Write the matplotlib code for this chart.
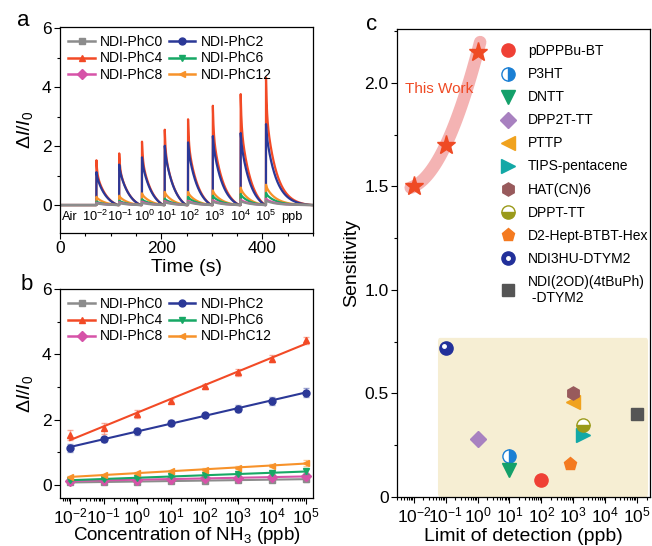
import matplotlib
matplotlib.use("Agg")
import matplotlib.pyplot as plt
import numpy as np
from matplotlib.lines import Line2D
from matplotlib.patches import FancyBboxPatch
from matplotlib.ticker import MultipleLocator, LogLocator, NullFormatter
from matplotlib.transforms import offset_copy

plt.rcParams["font.family"] = ["Liberation Sans", "DejaVu Sans"]
plt.rcParams["mathtext.fontset"] = "custom"
plt.rcParams["mathtext.rm"] = "Liberation Sans"
plt.rcParams["mathtext.it"] = "Liberation Sans:italic"
plt.rcParams["mathtext.bf"] = "Liberation Sans:bold"
plt.rcParams["axes.unicode_minus"] = False

series_names = ["NDI-PhC0", "NDI-PhC2", "NDI-PhC4", "NDI-PhC6", "NDI-PhC8", "NDI-PhC12"]
pulse_times = [72, 117, 162, 207, 253, 302, 357, 407]
pulse_labels = ["Air", "$10^{-2}$", "$10^{-1}$", "$10^{0}$", "$10^{1}$", "$10^{2}$",
                "$10^{3}$", "$10^{4}$", "$10^{5}$", "ppb"]
pulse_label_t = [19, 69, 118, 167, 210, 256, 305, 357, 407, 458]
peak_c0 = [0.06, 0.07, 0.08, 0.10, 0.11, 0.12, 0.14, 0.16]
peak_c2 = [1.12, 1.38, 1.63, 2.03, 2.15, 2.37, 2.48, 2.79]
peak_c4 = [1.53, 1.77, 2.18, 2.60, 2.97, 3.45, 3.87, 4.46]
peak_c6 = [0.12, 0.15, 0.20, 0.22, 0.28, 0.32, 0.38, 0.42]
peak_c8 = [0.08, 0.10, 0.12, 0.14, 0.15, 0.17, 0.19, 0.22]
peak_c12 = [0.28, 0.32, 0.40, 0.45, 0.45, 0.50, 0.60, 0.70]
recovery_s = [42, 42, 42, 42, 46, 52, 48, 90]

# ---- panel b: calibration ----
conc = [1e-2, 1e-1, 1e0, 1e1, 1e2, 1e3, 1e4, 1e5]
resp_c0 = [0.08, 0.09, 0.10, 0.12, 0.13, 0.15, 0.16, 0.18]
resp_c2 = [1.14, 1.40, 1.64, 1.91, 2.14, 2.34, 2.57, 2.83]
resp_c4 = [1.52, 1.73, 2.17, 2.58, 3.02, 3.45, 3.87, 4.43]
resp_c6 = [0.15, 0.18, 0.22, 0.26, 0.29, 0.33, 0.37, 0.42]
resp_c8 = [0.12, 0.14, 0.16, 0.18, 0.20, 0.22, 0.24, 0.26]
resp_c12 = [0.25, 0.30, 0.37, 0.42, 0.47, 0.53, 0.59, 0.67]
err_c2 = [0.12, 0.08, 0.10, 0.09, 0.07, 0.11, 0.11, 0.14]
err_c4 = [0.15, 0.17, 0.12, 0.05, 0.08, 0.10, 0.10, 0.10]
err_small = [0.03, 0.03, 0.03, 0.03, 0.04, 0.04, 0.05, 0.08]

# ---- panel c: comparison with literature ----
materials = ["pDPPBu-BT", "P3HT", "DNTT", "DPP2T-TT", "PTTP", "TIPS-pentacene",
             "HAT(CN)6", "DPPT-TT", "D2-Hept-BTBT-Hex", "NDI3HU-DTYM2",
             "NDI(2OD)(4tBuPh)\n -DTYM2"]
lod = [100, 10, 10, 1, 1000, 2000, 1000, 2000, 800, 0.1, 1e5]
sensitivity = [0.08, 0.20, 0.13, 0.28, 0.46, 0.30, 0.50, 0.35, 0.16, 0.72, 0.40]
this_work_lod = [0.01, 0.1, 1]
this_work_sens = [1.5, 1.7, 2.15]

colors = {"NDI-PhC0": "#8c8c8c", "NDI-PhC2": "#2b3897", "NDI-PhC4": "#f24a26",
          "NDI-PhC6": "#17a865", "NDI-PhC8": "#d653a8", "NDI-PhC12": "#f7922a"}
markers = {"NDI-PhC0": "s", "NDI-PhC2": "o", "NDI-PhC4": "^",
           "NDI-PhC6": "v", "NDI-PhC8": "D", "NDI-PhC12": "<"}
lit_styles = [
    dict(marker="o", color="#ef4035"),
    dict(marker="o", color="#1a7fd4", fillstyle="right", markerfacecoloralt="white"),
    dict(marker="v", color="#14a06a"),
    dict(marker="D", color="#a881c0", markersize=8),
    dict(marker="<", color="#f0a21e"),
    dict(marker=">", color="#12a8a6"),
    dict(marker="h", color="#985a5c"),
    dict(marker="o", color="#9a9a1a", fillstyle="bottom", markerfacecoloralt="white"),
    dict(marker="p", color="#f47a20"),
    dict(marker="o", color="#22309a"),
    dict(marker="s", color="#555555", markersize=8),
]


def pulse_trace(peaks, fast_frac):
    """Rebuild a trace: step up at each exposure, then decay back to baseline."""
    t = np.linspace(0, 500, 3000)
    y = np.zeros_like(t)
    for t0, peak, rec in zip(pulse_times, peaks, recovery_s):
        dt = t - t0
        m = (dt >= 0) & (dt <= rec)
        slow = (np.exp(-dt[m] / 20) - np.exp(-rec / 20)) / (1 - np.exp(-rec / 20))
        y[m] = peak * (fast_frac * np.exp(-dt[m] / 1.5) + (1 - fast_frac) * slow)
    return t, y


def style_axes(ax):
    for s in ax.spines.values():
        s.set_linewidth(0.9)
    ax.tick_params(which="both", direction="out", labelsize=12.5, width=0.8, pad=2)
    ax.tick_params(which="major", length=4)
    ax.tick_params(which="minor", length=2)


def small_legend(ax):
    order = ["NDI-PhC0", "NDI-PhC4", "NDI-PhC8", "NDI-PhC2", "NDI-PhC6", "NDI-PhC12"]
    handles = [Line2D([], [], color=colors[n], marker=markers[n], markersize=5,
                      lw=1.8, label=n) for n in order]
    ax.legend(handles=handles, ncol=2, loc="upper left", frameon=False,
              fontsize=10, handlelength=1.9, handletextpad=0.4, columnspacing=0.4,
              labelspacing=0.15, borderaxespad=0.2, bbox_to_anchor=(0.0, 1.0))


fig = plt.figure(figsize=(6.52, 5.46), dpi=100)
W, H = 652, 546


def add_ax(left, top, right, bottom):
    return fig.add_axes([left / W, 1 - bottom / H, (right - left) / W, (bottom - top) / H])


# panel a
ax_a = add_ax(60, 27, 313, 233)
trace_peaks = {"NDI-PhC0": peak_c0, "NDI-PhC2": peak_c2, "NDI-PhC4": peak_c4,
               "NDI-PhC6": peak_c6, "NDI-PhC8": peak_c8, "NDI-PhC12": peak_c12}
for name in ["NDI-PhC4", "NDI-PhC2", "NDI-PhC12", "NDI-PhC6", "NDI-PhC8", "NDI-PhC0"]:
    frac = 0.28 if name == "NDI-PhC4" else 0.1
    t, y = pulse_trace(trace_peaks[name], frac)
    ax_a.plot(t, y, color=colors[name], lw=1.6)
for tl, lab in zip(pulse_label_t, pulse_labels):
    ax_a.text(tl, -0.4, lab, ha="center", va="center", fontsize=9.2)
ax_a.set_xlim(0, 500)
ax_a.set_ylim(-0.95, 6.05)
ax_a.set_yticks([0, 2, 4, 6])
ax_a.yaxis.set_minor_locator(MultipleLocator(1))
ax_a.xaxis.set_minor_locator(MultipleLocator(50))
ax_a.set_xlabel("Time (s)", fontsize=14, labelpad=2)
ax_a.set_ylabel(r"$\Delta I/I_0$", fontsize=14, labelpad=5)
style_axes(ax_a)
small_legend(ax_a)

# panel b
ax_b = add_ax(60, 289, 313, 498)
resp = {"NDI-PhC0": resp_c0, "NDI-PhC2": resp_c2, "NDI-PhC4": resp_c4,
        "NDI-PhC6": resp_c6, "NDI-PhC8": resp_c8, "NDI-PhC12": resp_c12}
errs = {"NDI-PhC2": err_c2, "NDI-PhC4": err_c4}
logc = np.log10(conc)
for name in ["NDI-PhC0", "NDI-PhC8", "NDI-PhC6", "NDI-PhC12", "NDI-PhC2", "NDI-PhC4"]:
    vals = np.array(resp[name])
    k, b = np.polyfit(logc, vals, 1)
    ax_b.plot(conc, k * logc + b, color=colors[name], lw=1.5)
    ax_b.errorbar(conc, vals, yerr=errs.get(name, err_small), fmt="none",
                  ecolor=colors[name], alpha=0.45, elinewidth=1, capsize=2)
    ax_b.plot(conc, vals, ls="none", marker=markers[name], color=colors[name],
              markersize=5)
ax_b.set_xscale("log")
ax_b.set_xlim(10 ** -2.3, 10 ** 5.22)
ax_b.set_ylim(-0.4, 6)
ax_b.set_xticks(conc)
ax_b.xaxis.set_minor_locator(LogLocator(base=10, subs=np.arange(2, 10), numticks=20))
ax_b.xaxis.set_minor_formatter(NullFormatter())
ax_b.set_yticks([0, 2, 4, 6])
ax_b.yaxis.set_minor_locator(MultipleLocator(1))
ax_b.set_xlabel(r"Concentration of NH$_3$ (ppb)", fontsize=13.5, labelpad=-1)
ax_b.set_ylabel(r"$\Delta I/I_0$", fontsize=14, labelpad=5)
style_axes(ax_b)
small_legend(ax_b)

# panel c
ax_c = add_ax(397, 29, 650, 497)
ax_c.set_xscale("log")
ax_c.set_xlim(10 ** -2.53, 10 ** 5.41)
ax_c.set_ylim(0, 2.26)
ax_c.add_patch(FancyBboxPatch((0.162, 0.0), 0.83, 0.34, transform=ax_c.transAxes,
                              boxstyle="round,pad=0,rounding_size=0.008",
                              facecolor="#f6eed3", edgecolor="none", zorder=0))
lx = np.log10(this_work_lod)
cf = np.polyfit(lx, this_work_sens, 2)
xs = np.linspace(-2.1, 0.08, 60)
ax_c.plot(10 ** xs, np.polyval(cf, xs), color="#f4b3b3", lw=9,
          solid_capstyle="round", zorder=1)
ax_c.plot(this_work_lod, this_work_sens, ls="none", marker="*", markersize=14,
          color="#ef4a24", zorder=3)
ax_c.text(10 ** -2.27, 1.97, "This Work", color="#ef4a24", fontsize=11,
          ha="left", va="center")

handles = []
for x, y, name, st in zip(lod, sensitivity, materials, lit_styles):
    st = dict(st)
    ms = st.pop("markersize", 9.5)
    h, = ax_c.plot([x], [y], ls="none", markersize=ms, markeredgewidth=1,
                   markeredgecolor=st["color"], zorder=3, label=name, **st)
    if name.startswith("NDI3HU"):
        hl, = ax_c.plot([x], [y], ls="none", marker="o", markersize=2.5,
                        color="white", zorder=4,
                        transform=offset_copy(ax_c.transData, fig, x=-1.5, y=1.5,
                                              units="dots"))
        handles.append((h, hl))
    else:
        handles.append(h)
ax_c.legend(handles=handles, labels=materials, loc="upper left",
            bbox_to_anchor=(0.38, 0.985), frameon=False, fontsize=10,
            handlelength=1.0, handletextpad=0.9, labelspacing=0.65,
            borderaxespad=0.2, numpoints=1)
ax_c.set_xticks(conc)
ax_c.xaxis.set_minor_locator(LogLocator(base=10, subs=np.arange(2, 10), numticks=20))
ax_c.xaxis.set_minor_formatter(NullFormatter())
ax_c.set_yticks([0, 0.5, 1.0, 1.5, 2.0])
ax_c.set_yticklabels(["0", "0.5", "1.0", "1.5", "2.0"])
ax_c.yaxis.set_minor_locator(MultipleLocator(0.25))
ax_c.set_xlabel("Limit of detection (ppb)", fontsize=14, labelpad=2)
ax_c.set_ylabel("Sensitivity", fontsize=14, labelpad=3)
style_axes(ax_c)

fig.text(23 / W, 1 - 20 / H, "a", fontsize=16, ha="center", va="center")
fig.text(27 / W, 1 - 284 / H, "b", fontsize=16, ha="center", va="center")
fig.text(372 / W, 1 - 25 / H, "c", fontsize=16, ha="center", va="center")

fig.savefig("out.png", dpi=100)
